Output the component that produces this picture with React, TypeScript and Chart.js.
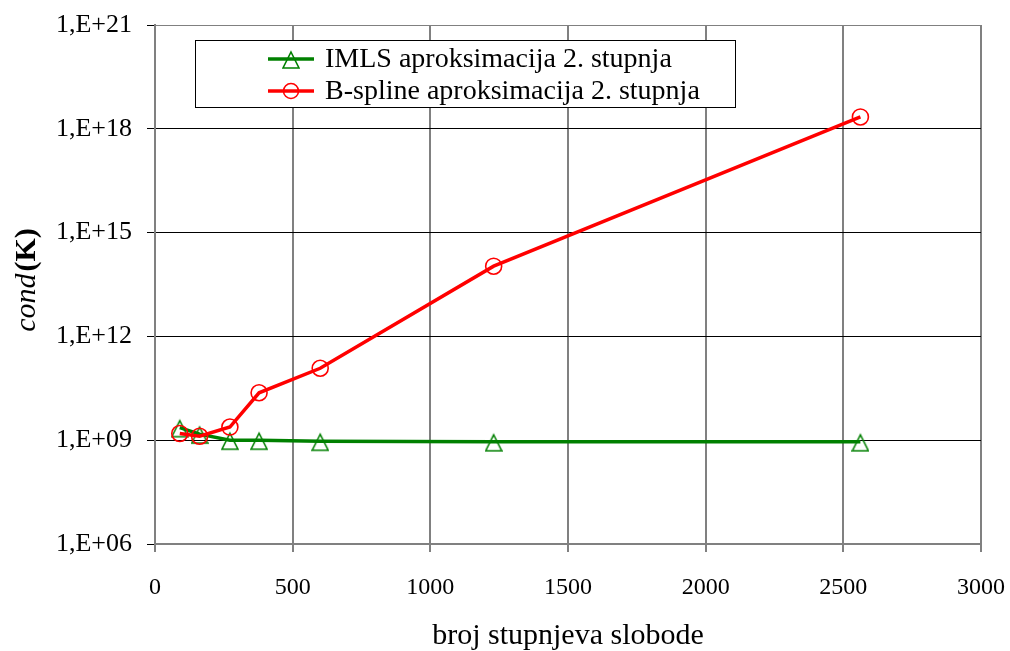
import React, { useEffect, useRef } from "react";
import { Chart, registerables } from "chart.js";

Chart.register(...registerables);

const dofs = [90, 162, 272, 378, 600, 1230, 2562];
const imlsCond = [2.3e9, 1.5e9, 1.0e9, 1.0e9, 9.3e8, 9.0e8, 9.0e8];
const bsplineCond = [1.56e9, 1.3e9, 2.4e9, 2.35e10, 1.2e11, 1.07e14, 2.2e18];
const yExponents = [6, 9, 12, 15, 18, 21];
const seriesLabels = ["IMLS aproksimacija 2. stupnja", "B-spline aproksimacija 2. stupnja"];
const xTitle = "broj stupnjeva slobode";

const SERIF = "'Liberation Serif', 'Times New Roman', serif";
const GREEN = "#008000";
const RED = "#FF0000";

function makeTriangle(): HTMLCanvasElement {
  const c = document.createElement("canvas");
  c.width = 18;
  c.height = 22;
  const g = c.getContext("2d")!;
  g.strokeStyle = GREEN;
  g.lineWidth = 1.6;
  g.beginPath();
  g.moveTo(9, 4);
  g.lineTo(17, 20);
  g.lineTo(1, 20);
  g.closePath();
  g.stroke();
  return c;
}

export default function App() {
  const ref = useRef<HTMLCanvasElement>(null);

  useEffect(() => {
    const canvas = ref.current;
    if (!canvas) return;
    const tri = makeTriangle();

    const overlay = {
      id: "overlay",
      afterDraw(chart: any) {
        const ctx = chart.ctx as CanvasRenderingContext2D;
        // Y axis title: italic "cond" + bold "(K)"
        ctx.save();
        ctx.translate(35, 280);
        ctx.rotate(-Math.PI / 2);
        ctx.fillStyle = "#000";
        ctx.textBaseline = "alphabetic";
        const f1 = `italic 30px ${SERIF}`;
        const f2 = `bold 30px ${SERIF}`;
        ctx.font = f1;
        const w1 = ctx.measureText("cond").width;
        ctx.font = f2;
        const w2 = ctx.measureText("(K)").width;
        const gap = 2;
        const total = w1 + gap + w2;
        ctx.font = f1;
        ctx.textAlign = "left";
        ctx.fillText("cond", -total / 2, 0);
        ctx.font = f2;
        ctx.fillText("(K)", -total / 2 + w1 + gap, 0);
        ctx.restore();

        // Legend box
        ctx.save();
        ctx.fillStyle = "#fff";
        ctx.fillRect(195, 40, 540, 67);
        ctx.strokeStyle = "#000";
        ctx.lineWidth = 1;
        ctx.strokeRect(195.5, 40.5, 540, 67);
        const ds = chart.data.datasets;
        [0, 1].forEach((i, row) => {
          const d = ds[i];
          const y = 59 + row * 32;
          ctx.strokeStyle = d.borderColor;
          ctx.lineWidth = 3.5;
          ctx.beginPath();
          ctx.moveTo(268, y);
          ctx.lineTo(314, y);
          ctx.stroke();
          if (i === 0) {
            ctx.drawImage(tri, 291 - tri.width / 2, y - tri.height / 2);
          } else {
            ctx.lineWidth = 1.6;
            ctx.beginPath();
            ctx.arc(291, y, 7.5, 0, Math.PI * 2);
            ctx.stroke();
          }
          ctx.fillStyle = "#000";
          ctx.font = `28px ${SERIF}`;
          ctx.textBaseline = "middle";
          ctx.textAlign = "left";
          ctx.fillText(d.label, 325, y + 1);
        });
        ctx.restore();
      },
    };

    const chart = new Chart(canvas, {
      type: "line",
      data: {
        datasets: [
          {
            label: seriesLabels[0],
            data: dofs.map((x, i) => ({ x, y: imlsCond[i] })),
            borderColor: GREEN,
            borderWidth: 3.5,
            pointStyle: tri as any,
            pointRadius: 9,
            pointBorderColor: GREEN,
            pointBackgroundColor: "transparent",
            tension: 0,
            order: 1,
          },
          {
            label: seriesLabels[1],
            data: dofs.map((x, i) => ({ x, y: bsplineCond[i] })),
            borderColor: RED,
            borderWidth: 3.5,
            pointStyle: "circle",
            pointRadius: 8,
            pointBorderWidth: 1.6,
            pointBorderColor: RED,
            pointBackgroundColor: "transparent",
            tension: 0,
            order: 0,
          },
        ],
      },
      options: {
        responsive: false,
        animation: false,
        devicePixelRatio: 1,
        layout: { padding: { left: 0, right: 29, top: 25, bottom: 0 } },
        plugins: { legend: { display: false }, tooltip: { enabled: false } },
        scales: {
          x: {
            type: "linear",
            min: 0,
            max: 3000,
            ticks: {
              stepSize: 500,
              color: "#000",
              font: { family: SERIF, size: 24 },
              padding: 21,
              maxRotation: 0,
              callback: (v: any) => String(v),
            },
            grid: { color: "#808080", lineWidth: 2, tickLength: 8, tickColor: "#808080" },
            border: { color: "#808080", width: 2 },
            title: {
              display: true,
              text: xTitle,
              color: "#000",
              font: { family: SERIF, size: 30 },
              padding: { top: 0, bottom: -3 },
            },
            afterFit: (s: any) => {
              s.height = 107;
              s.paddingLeft = 0;
              s.paddingRight = 0;
            },
          },
          y: {
            type: "logarithmic",
            min: 1e6,
            max: 1e21,
            afterBuildTicks: (s: any) => {
              s.ticks = yExponents.map((e) => ({ value: Math.pow(10, e) }));
            },
            ticks: {
              color: "#000",
              font: { family: SERIF, size: 26 },
              padding: 15,
              callback: (v: any) => {
                const e = Math.round(Math.log10(Number(v)));
                return "1,E+" + String(e).padStart(2, "0");
              },
            },
            grid: {
              color: (c: any) => {
                const v = c.tick ? c.tick.value : 0;
                return v >= 1e21 || v <= 1e6 ? "#808080" : "#000";
              },
              lineWidth: 1,
              tickLength: 8,
              tickColor: "#000",
            },
            border: { color: "#808080", width: 2 },
            afterFit: (s: any) => {
              s.width = 155;
              s.paddingTop = 0;
              s.paddingBottom = 0;
            },
          },
        },
      },
      plugins: [overlay],
    });
    return () => chart.destroy();
  }, []);

  return (
    <div style={{ position: "fixed", left: 0, top: 0, width: 1010, height: 651, background: "#fff" }}>
      <canvas ref={ref} width={1010} height={651} style={{ width: 1010, height: 651, display: "block" }} />
    </div>
  );
}
